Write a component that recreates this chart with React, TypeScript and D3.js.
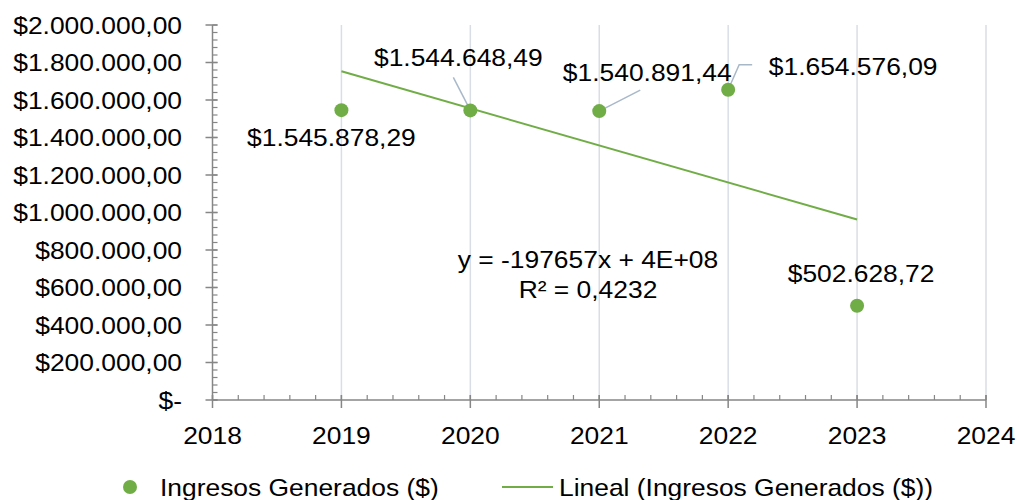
import React from "react";
import * as d3 from "d3";

const years = [2019, 2020, 2021, 2022, 2023];
const revenue = [1545878.29, 1544648.49, 1540891.44, 1654576.09, 502628.72];
const xTicks = [2018, 2019, 2020, 2021, 2022, 2023, 2024];
const yTicks = [0, 200000, 400000, 600000, 800000, 1000000, 1200000, 1400000, 1600000, 1800000, 2000000];
const seriesName = "Ingresos Generados ($)";
const trendName = "Lineal (Ingresos Generados ($))";

// label offsets (px) relative to each point, and optional leader lines
const labelOffsets = [
  { dx: -10, dy: 27, leader: null as null | number[][] },
  { dx: -12, dy: -53, leader: [[-17, -33], [0, 0]] },
  { dx: 48, dy: -39, leader: [[41, -21], [0, 0]] },
  { dx: 125, dy: -23, leader: [[0, 0], [11, -25], [24, -25]] },
  { dx: 4, dy: -32, leader: null },
];

const locale = d3.formatLocale({ decimal: ",", thousands: ".", grouping: [3], currency: ["$", ""] });
const fmt = locale.format("$,.2f");
const fmtTick = (v: number) => (v === 0 ? "$-" : fmt(v));

const GREEN = "#70ad47";
const AXIS = "#868686";
const GRID = "#d9dee6";
const LEADER = "#a9b8c9";
const FONT = "'Liberation Sans', Arial, sans-serif";
const FS = 24;
const SX = 1.1;

function T({ x, y, anchor = "middle", children }: { x: number; y: number; anchor?: string; children: React.ReactNode }) {
  return (
    <text
      transform={`translate(${x},${y}) scale(${SX},1)`}
      textAnchor={anchor as any}
      dominantBaseline="central"
      fontFamily={FONT}
      fontSize={FS}
      fill="#000"
    >
      {children}
    </text>
  );
}

export default function App() {
  const W = 1019, H = 500;
  const x = d3.scaleLinear().domain([2018, 2024]).range([212.5, 986]);
  const y = d3.scaleLinear().domain([0, 2000000]).range([400, 25]);

  // linear regression (Excel trendline)
  const mx = d3.mean(years)!;
  const my = d3.mean(revenue)!;
  const slope = d3.sum(years, (xv, i) => (xv - mx) * (revenue[i] - my)) / d3.sum(years, (xv) => (xv - mx) ** 2);
  const icpt = my - slope * mx;
  const ssTot = d3.sum(revenue, (v) => (v - my) ** 2);
  const ssRes = d3.sum(years, (xv, i) => (revenue[i] - (icpt + slope * xv)) ** 2);
  const r2 = 1 - ssRes / ssTot;
  const trendX = [years[0], years[years.length - 1]];
  const line = d3.line<number>().x((d) => x(d)).y((d) => y(icpt + slope * d));

  const eqText = `y = ${Math.round(slope)}x + 4E+08`;
  const r2Text = `R² = ${r2.toFixed(4).replace(".", ",")}`;

  const minorY = d3.range(0, 2000000 + 1, 40000);
  const minorX = d3.range(0, 6 * 5 + 1).map((i) => 2018 + i / 5);

  return (
    <svg width={W} height={H} style={{ position: "absolute", left: 0, top: 0, background: "#fff" }}>
      <rect width={W} height={H} fill="#fff" />
      {/* vertical gridlines */}
      {xTicks.slice(1).map((t) => (
        <line key={"g" + t} x1={x(t)} x2={x(t)} y1={y(2000000)} y2={y(0)} stroke={GRID} strokeWidth={1.5} />
      ))}
      {/* y axis */}
      <line x1={x(2018)} x2={x(2018)} y1={y(2000000)} y2={y(0)} stroke={AXIS} strokeWidth={1.5} />
      {minorY.map((v) => (
        <line key={"my" + v} x1={x(2018)} x2={x(2018) + 5} y1={y(v)} y2={y(v)} stroke={AXIS} strokeWidth={1.2} />
      ))}
      {yTicks.map((v) => (
        <line key={"Y" + v} x1={x(2018) - 7} x2={x(2018) + 5} y1={y(v)} y2={y(v)} stroke={AXIS} strokeWidth={1.5} />
      ))}
      {yTicks.map((v) => (
        <T key={"yl" + v} x={182} y={y(v)} anchor="end">{fmtTick(v)}</T>
      ))}
      {/* x axis */}
      <line x1={x(2018)} x2={x(2024)} y1={y(0)} y2={y(0)} stroke={AXIS} strokeWidth={1.5} />
      {minorX.map((v, i) => (
        <line key={"mx" + i} x1={x(v)} x2={x(v)} y1={y(0) - 5} y2={y(0)} stroke={AXIS} strokeWidth={1.2} />
      ))}
      {xTicks.map((t) => (
        <line key={"X" + t} x1={x(t)} x2={x(t)} y1={y(0) - 5} y2={y(0) + 8} stroke={AXIS} strokeWidth={1.5} />
      ))}
      {xTicks.map((t) => (
        <T key={"xl" + t} x={x(t)} y={435}>{t}</T>
      ))}
      {/* trendline */}
      <path d={line(trendX)!} fill="none" stroke={GREEN} strokeWidth={2} />
      {/* leader lines */}
      {years.map((yr, i) => {
        const o = labelOffsets[i];
        if (!o.leader) return null;
        const px = x(yr), py = y(revenue[i]);
        return (
          <polyline
            key={"ld" + yr}
            points={o.leader.map((p) => `${px + p[0]},${py + p[1]}`).join(" ")}
            fill="none"
            stroke={LEADER}
            strokeWidth={1.5}
          />
        );
      })}
      {/* points */}
      {years.map((yr, i) => (
        <circle key={"p" + yr} cx={x(yr)} cy={y(revenue[i])} r={7} fill={GREEN} />
      ))}
      {/* data labels */}
      {years.map((yr, i) => (
        <T key={"dl" + yr} x={x(yr) + labelOffsets[i].dx} y={y(revenue[i]) + labelOffsets[i].dy}>
          {fmt(revenue[i])}
        </T>
      ))}
      {/* equation */}
      <T x={588} y={259}>{eqText}</T>
      <T x={588} y={289}>{r2Text}</T>
      {/* legend */}
      <circle cx={130} cy={487} r={7} fill={GREEN} />
      <T x={160} y={487} anchor="start">{seriesName}</T>
      <line x1={502} x2={553} y1={487} y2={487} stroke={GREEN} strokeWidth={2} />
      <T x={559} y={487} anchor="start">{trendName}</T>
    </svg>
  );
}
